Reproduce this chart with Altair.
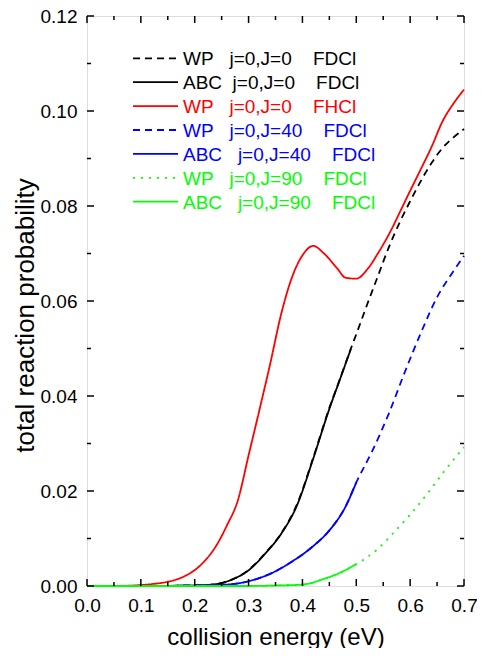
import altair as alt
import pandas as pd

# ---- data ----
series_names = [
    "WP j=0,J=0 FDCl", "ABC j=0,J=0 FDCl", "WP j=0,J=0 FHCl",
    "WP j=0,J=40 FDCl", "ABC j=0,J=40 FDCl", "WP j=0,J=90 FDCl", "ABC j=0,J=90 FDCl",
]
series_colors = ["#000000", "#000000", "#ff0000", "#0000ff", "#0000ff", "#00ff00", "#00ff00"]
series_dashes = [[7, 5], [1, 0], [1, 0], [7, 5], [1, 0], [2, 6], [1, 0]]
legend_labels = [
    "WP\u00a0\u00a0\u00a0j=0,J=0\u00a0\u00a0\u00a0\u00a0FDCl",
    "ABC\u00a0\u00a0j=0,J=0\u00a0\u00a0\u00a0\u00a0FDCl",
    "WP\u00a0\u00a0\u00a0j=0,J=0\u00a0\u00a0\u00a0\u00a0FHCl",
    "WP\u00a0\u00a0\u00a0j=0,J=40\u00a0\u00a0\u00a0\u00a0FDCl",
    "ABC\u00a0\u00a0\u00a0j=0,J=40\u00a0\u00a0\u00a0\u00a0FDCl",
    "WP\u00a0\u00a0\u00a0j=0,J=90\u00a0\u00a0\u00a0\u00a0FDCl",
    "ABC\u00a0\u00a0\u00a0j=0,J=90\u00a0\u00a0\u00a0\u00a0FDCl",
]

x_wp_j0 = [0.0, 0.1, 0.2, 0.24, 0.27, 0.30, 0.33, 0.36, 0.39, 0.42, 0.45, 0.47, 0.49,
           0.50, 0.52, 0.54, 0.56, 0.58, 0.60, 0.62, 0.64, 0.66, 0.68, 0.70]
y_wp_j0 = [0.0, 0.0, 0.0001, 0.0004, 0.0014, 0.0034, 0.0068, 0.0110, 0.0172, 0.0270, 0.0375, 0.0437, 0.0500,
           0.0530, 0.0592, 0.0652, 0.0712, 0.0764, 0.0810, 0.0853, 0.0891, 0.0922, 0.0944, 0.0962]

x_abc_j0 = [0.0, 0.1, 0.2, 0.24, 0.27, 0.30, 0.33, 0.36, 0.39, 0.42, 0.45, 0.47, 0.49]
y_abc_j0 = [0.0, 0.0, 0.0001, 0.0004, 0.0014, 0.0033, 0.0067, 0.0109, 0.0170, 0.0268, 0.0373, 0.0436, 0.0499]

x_wp_fhcl = [0.0, 0.05, 0.10, 0.12, 0.15, 0.18, 0.21, 0.24, 0.26, 0.28, 0.30, 0.32, 0.34, 0.36, 0.38,
             0.40, 0.42, 0.44, 0.465, 0.48, 0.50, 0.52, 0.54, 0.565, 0.58, 0.60, 0.62, 0.64, 0.66, 0.68, 0.70]
y_wp_fhcl = [0.0, 0.0, 0.0002, 0.0004, 0.0009, 0.0020, 0.0043, 0.0085, 0.0128, 0.0180, 0.0275, 0.0370,
             0.0467, 0.0570, 0.0648, 0.0696, 0.0716, 0.0700, 0.0668, 0.0649, 0.0647, 0.0666, 0.0700,
             0.0750, 0.0785, 0.0832, 0.0878, 0.0925, 0.0978, 0.1015, 0.1045]

x_wp_j40 = [0.0, 0.1, 0.2, 0.26, 0.30, 0.35, 0.38, 0.42, 0.45, 0.48, 0.50,
            0.53, 0.56, 0.59, 0.62, 0.65, 0.68, 0.70]
y_wp_j40 = [0.0, 0.0, 0.0001, 0.0003, 0.0010, 0.0031, 0.0051, 0.0084, 0.0117, 0.0167, 0.0218,
            0.0285, 0.0362, 0.0450, 0.0533, 0.0608, 0.0662, 0.0695]

x_abc_j40 = [0.0, 0.1, 0.2, 0.26, 0.30, 0.35, 0.38, 0.42, 0.45, 0.48, 0.50]
y_abc_j40 = [0.0, 0.0, 0.0001, 0.0003, 0.0010, 0.0031, 0.0051, 0.0084, 0.0117, 0.0167, 0.0218]

x_wp_j90 = [0.0, 0.1, 0.2, 0.3, 0.35, 0.40, 0.44, 0.47, 0.50, 0.54, 0.57, 0.60, 0.635, 0.665, 0.70]
y_wp_j90 = [0.0, 0.0, 0.0, 0.0, 0.0001, 0.0003, 0.0015, 0.0028, 0.0046, 0.0078, 0.0113, 0.0150,
            0.0199, 0.0244, 0.0292]

x_abc_j90 = [0.0, 0.1, 0.2, 0.3, 0.35, 0.40, 0.44, 0.47, 0.50]
y_abc_j90 = [0.0, 0.0, 0.0, 0.0, 0.0001, 0.0003, 0.0015, 0.0028, 0.0046]

x_tick_major = [0.0, 0.1, 0.2, 0.3, 0.4, 0.5, 0.6, 0.7]
x_tick_minor = [0.05, 0.15, 0.25, 0.35, 0.45, 0.55, 0.65]
y_tick_major = [0.0, 0.02, 0.04, 0.06, 0.08, 0.10, 0.12]
y_tick_minor = [0.01, 0.03, 0.05, 0.07, 0.09, 0.11]

# ---- build tables ----
xs = [x_wp_j0, x_abc_j0, x_wp_fhcl, x_wp_j40, x_abc_j40, x_wp_j90, x_abc_j90]
ys = [y_wp_j0, y_abc_j0, y_wp_fhcl, y_wp_j40, y_abc_j40, y_wp_j90, y_abc_j90]
rows = []
for name, xv, yv in zip(series_names, xs, ys):
    for a, b in zip(xv, yv):
        rows.append({"series": name, "x": a, "y": b})
df = pd.DataFrame(rows)
legend_df = pd.DataFrame({"series": series_names, "label": legend_labels,
                          "row": list(range(len(series_names)))})

W, H = 377, 570
FONT = "Liberation Sans"
xscale = alt.Scale(domain=[0, 0.7], nice=False, zero=False)
yscale = alt.Scale(domain=[0, 0.12], nice=False, zero=False)
cscale = alt.Scale(domain=series_names, range=series_colors)
dscale = alt.Scale(domain=series_names, range=series_dashes)

xaxis = alt.Axis(values=x_tick_major, format=".1f", ticks=False, domain=False, grid=False,
                 labelFlush=False, labelOverlap=False,
                 labelFontSize=19, labelFont=FONT, labelColor="black", labelPadding=10,
                 title="collision energy (eV)", titleFontSize=24, titleFont=FONT,
                 titleFontWeight="normal", titleColor="black", titleBaseline="alphabetic",
                 titleY=58, titleX=W / 2)
yaxis = alt.Axis(values=y_tick_major, format=".2f", ticks=False, domain=False, grid=False,
                 labelFlush=False, labelOverlap=False,
                 labelFontSize=19, labelFont=FONT, labelColor="black", labelPadding=10,
                 title="total reaction probability", titleFontSize=26, titleFont=FONT,
                 titleFontWeight="normal", titleColor="black", titleBaseline="alphabetic",
                 titleX=-54, titleY=299)

lines = alt.Chart(df).mark_line(strokeWidth=1.8, interpolate="monotone").encode(
    x=alt.X("x:Q", scale=xscale, axis=xaxis),
    y=alt.Y("y:Q", scale=yscale, axis=yaxis),
    color=alt.Color("series:N", scale=cscale, legend=None),
    strokeDash=alt.StrokeDash("series:N", scale=dscale, legend=None),
    order=alt.Order("x:Q"),
)

def xticks(vals, length):
    d = pd.DataFrame({"v": vals})
    bottom = alt.Chart(d).mark_rule(color="black", strokeWidth=1.5).encode(
        x=alt.X("v:Q", scale=xscale, axis=xaxis), y=alt.value(H), y2=alt.value(H - length))
    top = alt.Chart(d).mark_rule(color="black", strokeWidth=1.5).encode(
        x=alt.X("v:Q", scale=xscale, axis=xaxis), y=alt.value(0), y2=alt.value(length))
    return [bottom, top]

def yticks(vals, length):
    d = pd.DataFrame({"v": vals})
    left = alt.Chart(d).mark_rule(color="black", strokeWidth=1.5).encode(
        y=alt.Y("v:Q", scale=yscale, axis=yaxis), x=alt.value(0), x2=alt.value(length))
    right = alt.Chart(d).mark_rule(color="black", strokeWidth=1.5).encode(
        y=alt.Y("v:Q", scale=yscale, axis=yaxis), x=alt.value(W), x2=alt.value(W - length))
    return [left, right]

main = alt.layer(lines, *xticks(x_tick_major, 7), *xticks(x_tick_minor, 4),
                 *yticks(y_tick_major, 7), *yticks(y_tick_minor, 4))

rowscale = alt.Scale(domain=[0, 6], range=[42.3, 185.7])
leg_lines = alt.Chart(legend_df).mark_rule(strokeWidth=1.8).encode(
    y=alt.Y("row:Q", scale=rowscale, axis=None),
    x=alt.value(46), x2=alt.value(91),
    color=alt.Color("series:N", scale=cscale, legend=None),
    strokeDash=alt.StrokeDash("series:N", scale=dscale, legend=None),
)
leg_text = alt.Chart(legend_df).mark_text(
    align="left", baseline="middle", fontSize=19, font=FONT, dy=1
).encode(
    y=alt.Y("row:Q", scale=rowscale, axis=None),
    x=alt.value(96),
    text="label:N",
    color=alt.Color("series:N", scale=cscale, legend=None),
)

chart = alt.layer(main, leg_lines, leg_text).resolve_scale(y="independent").properties(
    width=W, height=H,
    autosize=alt.AutoSizeParams(type="none"),
    padding={"left": 79, "top": 8, "right": 13, "bottom": 62},
).configure_view(stroke="black", strokeWidth=2).configure(background="white")

chart.save("out.html", embed_options={"renderer": "svg", "actions": False})
